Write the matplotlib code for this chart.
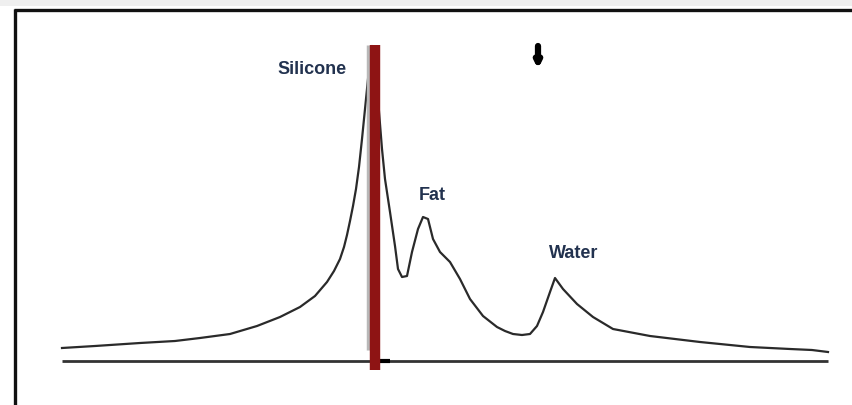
import matplotlib
matplotlib.use("Agg")
import matplotlib.pyplot as plt

# Spectrum trace (horizontal position, signal height in image units; y grows downward)
spec_x = [62, 95, 140, 175, 200, 230, 257, 280, 300, 315, 327, 334, 340, 344, 347, 350, 353, 356,
          359, 362, 365, 368, 370, 372, 378, 382, 385, 390, 395, 398, 402, 407, 412, 418, 423,
          428, 433, 440, 450, 460, 470, 483, 497, 505, 513, 522, 530, 537, 543, 550, 555, 563,
          577, 593, 613, 650, 700, 750, 790, 812, 828]
spec_y = [349, 347, 344, 342, 339, 335, 327, 318, 308, 297, 283, 272, 260, 248, 236, 222, 207, 190,
          168, 140, 110, 80, 63, 47, 100, 150, 180, 213, 247, 270, 278, 277, 253, 230, 218,
          220, 240, 253, 263, 280, 300, 317, 328, 332, 335, 336, 335, 327, 313, 293, 279, 290,
          305, 318, 330, 337, 343, 348, 350, 351, 353]

peak_labels = ["Silicone", "Fat", "Water"]
label_x = [312, 432, 574]
label_y = [70, 196, 254]

baseline_x = [62, 828]
baseline_y = 362
marker_x = 375.5      # red vertical marker
marker_top, marker_bottom = 46, 371
arrow_x = 538

fig = plt.figure(figsize=(8.53, 4.06), dpi=100)
ax = fig.add_axes([0, 0, 1, 1])
ax.set_xlim(0, 853)
ax.set_ylim(406, 0)
ax.axis("off")

# outer frame
ax.add_patch(plt.Rectangle((0, 0), 853, 7, color="#efefef", lw=0))
ax.plot([14, 853], [10.5, 10.5], color="#111111", lw=2.4, solid_capstyle="butt")
ax.plot([15.5, 15.5], [10, 406], color="#111111", lw=2.4, solid_capstyle="butt")

# baseline
ax.plot(baseline_x, [baseline_y, baseline_y], color="#333333", lw=2.0, solid_capstyle="butt")
ax.plot([380, 390], [baseline_y, baseline_y], color="#000000", lw=3.0, solid_capstyle="butt")

# spectrum
ax.plot(spec_x, spec_y, color="#2a2a2a", lw=1.6, solid_joinstyle="round")

# marker bar
ax.plot([marker_x - 7, marker_x - 7], [marker_top, marker_bottom - 20], color="#b8b8b8", lw=2.5,
        solid_capstyle="butt")
ax.plot([marker_x, marker_x], [marker_top, marker_bottom], color="#8e1414", lw=7.5,
        solid_capstyle="butt")

# arrow
ax.annotate("", xy=(arrow_x, 70), xytext=(arrow_x, 47),
            arrowprops=dict(arrowstyle="-|>", color="black", lw=4.5, mutation_scale=8,
                            shrinkA=0, shrinkB=0))

for t, x, y in zip(peak_labels, label_x, label_y):
    ax.text(x, y, t, ha="center", va="center", fontsize=13, fontweight="bold",
            color="#22324f", family="Liberation Sans")

fig.savefig("out.png", dpi=100)
